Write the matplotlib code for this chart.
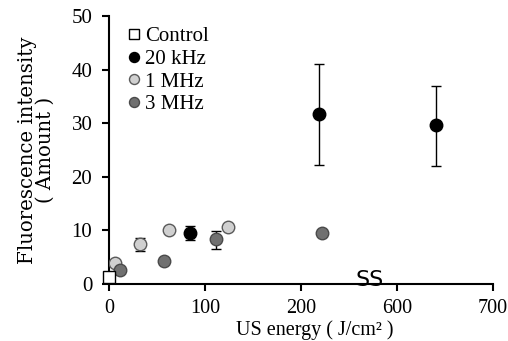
import matplotlib
matplotlib.use("Agg")
import matplotlib.pyplot as plt
import numpy as np

plt.rcParams['font.family'] = ['Liberation Serif', 'DejaVu Serif']

# data
ctrl_x = [0]
ctrl_y = [1.4]

khz20_x = [84, 219, 641]
khz20_y = [9.6, 31.7, 29.6]
khz20_lo = [1.4, 9.4, 7.5]
khz20_hi = [1.3, 9.3, 7.4]

mhz1_x = [6, 32, 62, 124]
mhz1_y = [4.0, 7.4, 10.1, 10.7]
mhz1_lo = [0.4, 1.2, 0.6, 0.5]
mhz1_hi = [0.4, 1.1, 0.6, 0.5]

mhz3_x = [11, 57, 111, 222]
mhz3_y = [2.6, 4.3, 8.4, 9.6]
mhz3_lo = [0.4, 0.5, 1.9, 0.5]
mhz3_hi = [0.4, 0.5, 1.5, 0.5]

xticks = [0, 100, 200, 600, 700]


# broken x axis: 0-250 linear, squeeze 250-600, then 600-700 linear again
def fwd(x):
    x = np.asarray(x, dtype=float)
    return np.where(x <= 250, x,
                    np.where(x < 600, 250 + (x - 250) * (50 / 350), x - 300))


def inv(p):
    p = np.asarray(p, dtype=float)
    return np.where(p <= 250, p,
                    np.where(p < 300, 250 + (p - 250) * (350 / 50), p + 300))


fig = plt.figure(figsize=(5.08, 3.41), dpi=100)
ax = fig.add_axes([0.2146, 0.167, 0.756, 0.786])
ax.set_xscale('function', functions=(fwd, inv))

ebkw = dict(fmt='none', ecolor='black', elinewidth=1.0, capsize=3.8, capthick=1.0, zorder=2)
ax.errorbar(khz20_x, khz20_y, yerr=[khz20_lo, khz20_hi], **ebkw)
ax.errorbar(mhz1_x, mhz1_y, yerr=[mhz1_lo, mhz1_hi], **ebkw)
ax.errorbar(mhz3_x, mhz3_y, yerr=[mhz3_lo, mhz3_hi], **ebkw)

ax.plot(ctrl_x, ctrl_y, 's', ms=9, mfc='white', mec='black', mew=1.0,
        label='Control', zorder=4, clip_on=False)
ax.plot(khz20_x, khz20_y, 'o', ms=9, mfc='black', mec='black',
        label='20 kHz', zorder=3)
ax.plot(mhz1_x, mhz1_y, 'o', ms=9, mfc='#d0d0d0', mec='#5a5a5a', mew=1.0,
        label='1 MHz', zorder=3)
ax.plot(mhz3_x, mhz3_y, 'o', ms=9, mfc='#707070', mec='#4a4a4a', mew=1.0,
        label='3 MHz', zorder=3)

ax.set_xlim(0, 700)
ax.set_ylim(0, 50)
ax.set_xticks(xticks)
ax.set_xticklabels([str(t) for t in xticks])
ax.set_yticks([0, 10, 20, 30, 40, 50])

for s in ['top', 'right']:
    ax.spines[s].set_visible(False)
for s in ['left', 'bottom']:
    ax.spines[s].set_linewidth(1.5)
ax.tick_params(direction='out', length=5, width=1.5, labelsize=15)
ax.tick_params(axis='x', labelsize=14.5, pad=6)
ax.tick_params(axis='y', pad=7)

ax.set_ylabel('Fluorescence intensity\n( Amount )', fontsize=14.2,
              family=['DejaVu Serif'], linespacing=0.95)
ax.yaxis.set_label_coords(-0.141, 0.5)
ax.set_xlabel('US energy ( J/cm² )', fontsize=14.5, va='bottom')
ax.xaxis.set_label_coords(0.536, -0.207)

# break mark on the x axis
ax.text(400, 0.8, 'SS', transform=ax.transData, fontsize=16,
        family='DejaVu Sans', color='black', ha='center', va='center',
        clip_on=False)

leg = ax.legend(loc='upper left', bbox_to_anchor=(0.0, 1.015), frameon=False,
                fontsize=15, handletextpad=0.05, handlelength=1.0,
                labelspacing=0.15, borderaxespad=0.3, markerscale=0.8)

fig.savefig('out.png', dpi=100)
